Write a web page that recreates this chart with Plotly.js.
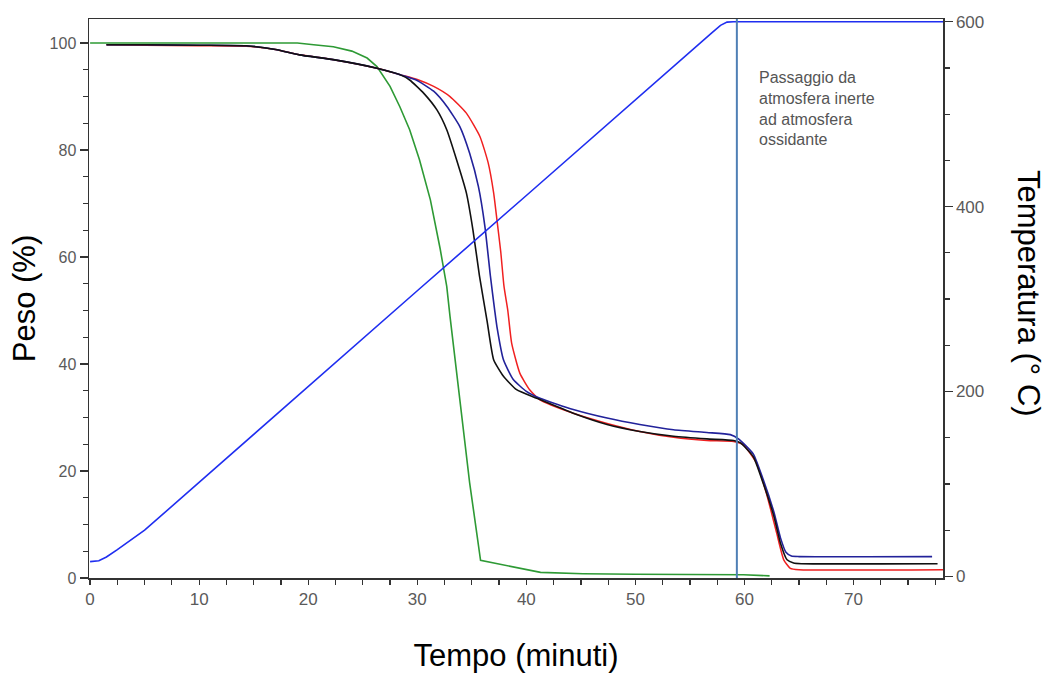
<!DOCTYPE html>
<html>
<head>
<meta charset="utf-8">
<script src="https://cdn.plot.ly/plotly-3.0.1.min.js"></script>
<style>html,body{margin:0;padding:0;background:#fff;}#chart{width:1045px;height:673px;}</style>
</head>
<body>
<div id="chart"></div>
<script>
// ---- Data ----
const greenTime = [0, 19, 20.5, 22.3, 24, 25.4, 26.3, 27.5, 28.4, 29.3, 30.2, 31.2, 32.1, 32.7, 33.0, 33.9, 34.8, 35.45, 35.8, 41.3, 45.2, 50, 55, 59.9, 62.3];
const greenWeight = [100, 100, 99.7, 99.3, 98.5, 97.2, 95.6, 91.9, 88.1, 83.8, 78.2, 70.7, 61.5, 54.5, 48.9, 33.3, 17.8, 8.4, 3.3, 1.05, 0.8, 0.7, 0.6, 0.6, 0.4];

const blackTime = [1.5, 5, 10, 14.3, 17, 19.2, 22.3, 26.3, 28.4, 29.3, 30.6, 31.8, 32.7, 33.6, 34.5, 35.1, 35.7, 36.4, 37.0, 37.9, 39.1, 40.95, 44.3, 47.4, 50.4, 53.5, 56.55, 59.0, 59.6, 60.8, 61.7, 62.7, 63.3, 63.9, 64.5, 65.2, 77.7];
const blackWeight = [99.7, 99.7, 99.6, 99.5, 98.8, 97.8, 96.9, 95.3, 94.1, 93.1, 90.6, 87.5, 83.8, 78.2, 72, 65.1, 56.5, 48, 40.8, 37.7, 35.2, 33.6, 30.8, 28.7, 27.4, 26.5, 26.0, 25.7, 25.3, 22.7, 17.8, 11.5, 6.5, 3.4, 2.8, 2.67, 2.67];

const blueTime = [1.5, 5, 10, 14.3, 17, 19.2, 22.3, 26.3, 28.4, 29.9, 31.5, 32.7, 33.9, 34.8, 35.6, 36.2, 36.7, 37.1, 37.3, 37.9, 38.8, 40.0, 41.25, 44.3, 47.4, 50.4, 53.5, 56.55, 58.7, 59.45, 60.8, 61.7, 62.7, 63.3, 63.8, 64.3, 65, 77.2];
const blueWeight = [99.7, 99.7, 99.6, 99.5, 98.8, 97.8, 96.9, 95.3, 94.1, 93.1, 91, 88.2, 84.4, 79.4, 73.2, 65.7, 56.5, 50, 47, 40.8, 37.1, 34.9, 33.6, 31.5, 29.9, 28.7, 27.7, 27.2, 26.8, 26.0, 23.2, 18.5, 12.3, 7.5, 4.8, 4.1, 4.0, 4.0];

const redTime = [1.5, 5, 10, 14.3, 17, 19.2, 22.3, 26.3, 28.4, 30.0, 31.5, 33.0, 34.5, 35.75, 36.5, 37.0, 37.3, 37.65, 37.95, 38.3, 38.65, 39.4, 40.3, 41.25, 44.3, 47.4, 50.4, 53.5, 56.55, 59.0, 59.9, 61.1, 62.0, 62.95, 63.6, 64.2, 65, 78.2];
const redWeight = [99.7, 99.6, 99.5, 99.4, 98.8, 97.8, 96.9, 95.3, 94.1, 93.2, 91.9, 90, 86.9, 82.5, 77.6, 72, 67, 61, 54.5, 50, 43.9, 38.3, 35.2, 33.3, 30.8, 28.9, 27.4, 26.3, 25.7, 25.5, 24.9, 21.5, 15.9, 8.4, 3.4, 1.8, 1.55, 1.55];

const tempTime = [0, 0.8, 1.5, 2.5, 5, 10, 20, 30, 40, 50, 57, 57.8, 58.4, 59, 60, 70, 78.2];
const tempValue = [16, 17, 21, 29, 50, 102, 205, 309, 412, 516, 588, 596, 599.5, 600, 600, 600, 600];

const switchTime = 59.3;
const switchLabel = 'Passaggio da<br>atmosfera inerte<br>ad atmosfera<br>ossidante';

const xTitle = 'Tempo (minuti)';
const yTitle = 'Peso (%)';
const y2Title = 'Temperatura (° C)';

// ---- Traces ----
const tg = (x, y, color, w, smooth) => ({
  x: x, y: y, type: 'scatter', mode: 'lines',
  line: smooth ? {color: color, width: w, shape: 'spline', smoothing: 0.5} : {color: color, width: w},
  hoverinfo: 'skip', showlegend: false
});

const traces = [
  tg(greenTime, greenWeight, '#2e9a35', 1.6, false),
  tg(redTime, redWeight, '#f02020', 1.5, true),
  tg(blueTime, blueWeight, '#22229a', 1.6, true),
  tg(blackTime, blackWeight, '#111111', 1.6, true),
  {x: tempTime, y: tempValue, yaxis: 'y2', type: 'scatter', mode: 'lines', line: {color: '#1f2ef0', width: 1.6}, hoverinfo: 'skip', showlegend: false}
];

const tickFont = {family: '"Liberation Sans Narrow", "Liberation Sans", Arial, sans-serif', size: 17, color: '#5a5a5a'};
const titleFont = {family: '"Liberation Sans", Arial, sans-serif', size: 31, color: '#000'};

const layout = {
  width: 1045, height: 673,
  margin: {l: 89, r: 102, t: 19, b: 95},
  paper_bgcolor: '#fff', plot_bgcolor: '#fff',
  showlegend: false,
  xaxis: {
    range: [-0.1, 78.2], tick0: 0, dtick: 10,
    ticks: 'outside', ticklen: 5, tickcolor: '#333', tickwidth: 1.2,
    minor: {dtick: 2.5, ticks: 'outside', ticklen: 5, tickcolor: '#333', tickwidth: 1.2},
    showline: true, linecolor: '#333', linewidth: 1.5, mirror: true,
    showgrid: false, zeroline: false,
    tickfont: tickFont,
    title: {text: xTitle, font: titleFont, standoff: 38}
  },
  yaxis: {
    range: [0, 104.5], tick0: 0, dtick: 20,
    ticks: 'outside', ticklen: 8, tickcolor: '#333', tickwidth: 1.2,
    minor: {dtick: 5, ticks: 'outside', ticklen: 5, tickcolor: '#333', tickwidth: 1.2},
    showline: true, linecolor: '#333', linewidth: 1.5,
    showgrid: false, zeroline: false,
    tickfont: Object.assign({}, tickFont, {size: 16}),
    title: {text: yTitle, font: titleFont, standoff: 4}
  },
  yaxis2: {
    overlaying: 'y', side: 'right',
    range: [-1.7, 602.9], tick0: 0, dtick: 200,
    ticks: 'outside', ticklen: 8, tickcolor: '#333', tickwidth: 1.2,
    minor: {dtick: 50, ticks: 'outside', ticklen: 5, tickcolor: '#333', tickwidth: 1.2},
    showline: true, linecolor: '#333', linewidth: 1.5,
    showgrid: false, zeroline: false,
    tickfont: tickFont
  },
  shapes: [{
    type: 'line', xref: 'x', yref: 'paper', x0: switchTime, x1: switchTime, y0: 0, y1: 1,
    line: {color: '#4f7fb5', width: 2}
  }],
  annotations: [
    {
      text: switchLabel, xref: 'paper', yref: 'paper', x: 0.782, y: 0.915,
      xanchor: 'left', yanchor: 'top', align: 'left', showarrow: false,
      font: {family: '"Liberation Sans Narrow", "Liberation Sans", Arial, sans-serif', size: 16, color: '#555'}
    },
    {
      text: y2Title, xref: 'paper', yref: 'paper', x: 1.0, y: 0.51,
      xshift: 85, xanchor: 'center', yanchor: 'middle', textangle: 90, showarrow: false,
      font: titleFont
    }
  ]
};

Plotly.newPlot('chart', traces, layout, {staticPlot: true, displayModeBar: false});
</script>
</body>
</html>
